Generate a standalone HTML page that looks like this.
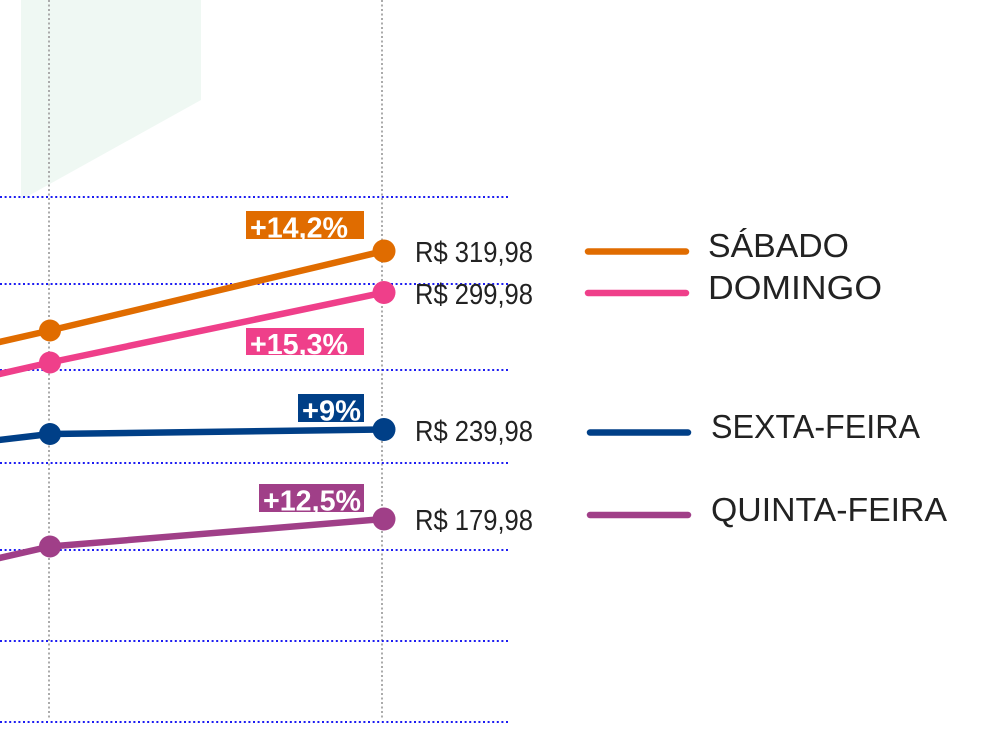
<!DOCTYPE html>
<html><head><meta charset="utf-8"><style>
html,body{margin:0;padding:0;background:#fff;}
svg{display:block;}
text{font-family:"Liberation Sans",sans-serif;}
</style></head><body>
<svg width="1000" height="735" viewBox="0 0 1000 735" xmlns="http://www.w3.org/2000/svg">
<polygon points="21,0 201,0 201,100 21,200" fill="#eff8f3"/>
<g stroke="#ababab" stroke-width="2" stroke-dasharray="2 2.5">
<line x1="49" y1="0" x2="49" y2="718"/>
<line x1="382" y1="0" x2="382" y2="718"/>
</g>
<g stroke="#1c1cf2" stroke-width="2" stroke-dasharray="2 2.6">
<line x1="0" y1="197" x2="510" y2="197"/>
<line x1="0" y1="284" x2="510" y2="284"/>
<line x1="0" y1="370" x2="510" y2="370"/>
<line x1="0" y1="463" x2="510" y2="463"/>
<line x1="0" y1="550" x2="510" y2="550"/>
<line x1="0" y1="641" x2="510" y2="641"/>
<line x1="0" y1="722" x2="510" y2="722"/>
</g>
<g fill="none" stroke-width="6.5" stroke-linejoin="round">
<polyline points="-5,343 50,330.5 384,251" stroke="#e06c00"/>
<polyline points="-5,375 50,362.5 384,292.5" stroke="#ef3f8a"/>
<polyline points="-5,440.5 50,434 384,429.5" stroke="#003f87"/>
<polyline points="-5,559 50,546.5 384,519" stroke="#a03f88"/>
</g>
<circle cx="50" cy="330.5" r="11" fill="#e06c00"/>
<circle cx="384" cy="251" r="11.5" fill="#e06c00"/>
<circle cx="50" cy="362.5" r="11" fill="#ef3f8a"/>
<circle cx="384" cy="292.5" r="11.5" fill="#ef3f8a"/>
<circle cx="50" cy="434" r="11" fill="#003f87"/>
<circle cx="384" cy="429.5" r="11.5" fill="#003f87"/>
<circle cx="50" cy="546.5" r="11" fill="#a03f88"/>
<circle cx="384" cy="519" r="11.5" fill="#a03f88"/>

<rect x="246" y="211" width="118" height="28" fill="#e06c00"/>
<rect x="246" y="328" width="118" height="27" fill="#ef3f8a"/>
<rect x="298" y="394" width="66" height="28" fill="#003f87"/>
<rect x="259" y="484" width="105" height="28" fill="#a03f88"/>
<g fill="#fff" font-weight="bold" font-size="29">
<text x="250" y="237.5" textLength="98" lengthAdjust="spacingAndGlyphs">+14,2%</text>
<text x="250" y="354" textLength="98" lengthAdjust="spacingAndGlyphs">+15,3%</text>
<text x="302" y="420.5" textLength="59" lengthAdjust="spacingAndGlyphs">+9%</text>
<text x="263" y="510.5" textLength="98" lengthAdjust="spacingAndGlyphs">+12,5%</text>
</g>
<g fill="#222" font-size="29">
<text x="415" y="262" textLength="118" lengthAdjust="spacingAndGlyphs">R$ 319,98</text>
<text x="415" y="304" textLength="118" lengthAdjust="spacingAndGlyphs">R$ 299,98</text>
<text x="415" y="441" textLength="118" lengthAdjust="spacingAndGlyphs">R$ 239,98</text>
<text x="415" y="530" textLength="118" lengthAdjust="spacingAndGlyphs">R$ 179,98</text>
</g>
<g stroke-width="6.5" stroke-linecap="round">
<line x1="588" y1="251.5" x2="686" y2="251.5" stroke="#e06c00"/>
<line x1="588" y1="293" x2="686" y2="293" stroke="#ef3f8a"/>
<line x1="590" y1="432.5" x2="688" y2="432.5" stroke="#003f87"/>
<line x1="590" y1="515" x2="688" y2="515" stroke="#a03f88"/>
</g>
<g fill="#222" font-size="33">
<text x="708" y="257" textLength="141" lengthAdjust="spacingAndGlyphs">SÁBADO</text>
<text x="708" y="299" textLength="174" lengthAdjust="spacingAndGlyphs">DOMINGO</text>
<text x="711" y="438" textLength="209" lengthAdjust="spacingAndGlyphs">SEXTA-FEIRA</text>
<text x="711" y="521" textLength="236" lengthAdjust="spacingAndGlyphs">QUINTA-FEIRA</text>
</g>
</svg>
</body></html>
